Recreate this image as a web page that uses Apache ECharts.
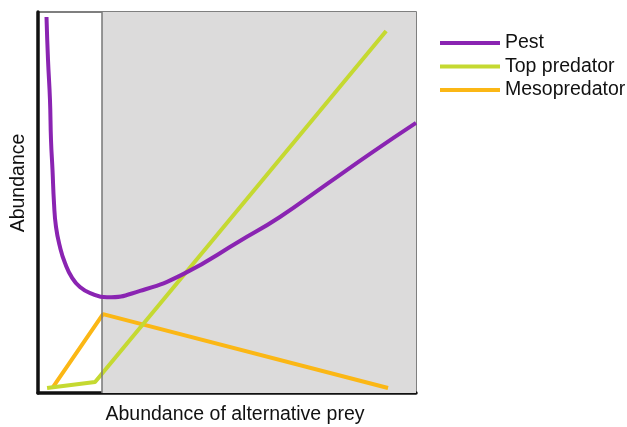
<!DOCTYPE html>
<html><head><meta charset="utf-8">
<script src="https://cdn.jsdelivr.net/npm/echarts@6/dist/echarts.min.js"></script>
<style>html,body{margin:0;padding:0;background:#fff}#c{width:627px;height:427px}</style>
</head><body><div id="c"></div>
<script>
const seriesNames = ['Pest', 'Top predator', 'Mesopredator'];
const pestX = [2.25, 2.65, 3.17, 3.44, 3.84, 4.23, 4.76, 5.82, 7.14, 8.92, 11.1, 13.8, 18.25, 27.0, 38.4, 53.4, 64.0, 76.5, 88.6, 100];
const pestY = [98.7, 87.4, 76.9, 66.4, 58.5, 49.9, 43.6, 38.3, 34.1, 30.4, 27.8, 26.2, 25.1, 26.8, 31.2, 39.9, 46.2, 54.9, 63.3, 70.9];
const topX = [2.4, 15.1, 92.1];
const topY = [1.3, 2.9, 95.0];
const mesoX = [4.0, 17.2, 92.6];
const mesoY = [1.6, 20.7, 1.3];
const regionStart = 16.9;
const regionEnd = 100;
const xTitle = 'Abundance of alternative prey';
const yTitle = 'Abundance';

const zip = (xs, ys) => xs.map((x, i) => [x, ys[i]]);
const colors = ['#8a24b2', '#c5d931', '#fbb715'];
const font = 'Liberation Sans, Arial, sans-serif';

const chart = echarts.init(document.getElementById('c'));
chart.setOption({
  animation: false,
  color: colors,
  grid: { left: 38, right: 211, top: 12, bottom: 34, show: true, borderColor: '#555', borderWidth: 1.5, backgroundColor: 'transparent' },
  xAxis: { type: 'value', min: 0, max: 100, axisLine: { show: true, onZero: false, lineStyle: { color: '#111', width: 3.5 } }, axisTick: { show: false }, axisLabel: { show: false }, splitLine: { show: false } },
  yAxis: { type: 'value', min: 0, max: 100, axisLine: { show: true, onZero: false, lineStyle: { color: '#111', width: 3.5 } }, axisTick: { show: false }, axisLabel: { show: false }, splitLine: { show: false } },
  legend: {
    orient: 'vertical', left: 435, top: 28, itemWidth: 60, itemHeight: 4, itemGap: 3.5, icon: 'rect',
    textStyle: { fontFamily: font, fontSize: 19.5, color: '#111', lineHeight: 20, padding: [0, 0, 0, 0] },
    data: seriesNames
  },
  graphic: [
    { type: 'text', x: 235, y: 415, style: { text: xTitle, x: 0, y: 0, align: 'center', verticalAlign: 'middle', font: '19.5px ' + font, fill: '#111' } },
    { type: 'text', x: 18.5, y: 183, rotation: Math.PI / 2, style: { text: yTitle, x: 0, y: 0, align: 'center', verticalAlign: 'middle', font: '19.5px ' + font, fill: '#111' } }
  ],
  series: [
    { name: seriesNames[0], type: 'line', data: zip(pestX, pestY), smooth: 0.5, showSymbol: false, lineStyle: { width: 4, color: colors[0] }, z: 5,
      markArea: { silent: true, itemStyle: { color: '#dcdbdb' }, data: [[{ xAxis: regionStart }, { xAxis: regionEnd }]] },
      markLine: { silent: true, symbol: 'none', label: { show: false }, lineStyle: { color: '#777', width: 1.5, type: 'solid' }, data: [{ xAxis: regionStart }] } },
    { name: seriesNames[1], type: 'line', data: zip(topX, topY), showSymbol: false, lineStyle: { width: 4, color: colors[1] }, z: 4 },
    { name: seriesNames[2], type: 'line', data: zip(mesoX, mesoY), showSymbol: false, lineStyle: { width: 4, color: colors[2] }, z: 3 }
  ]
});
</script></body></html>
